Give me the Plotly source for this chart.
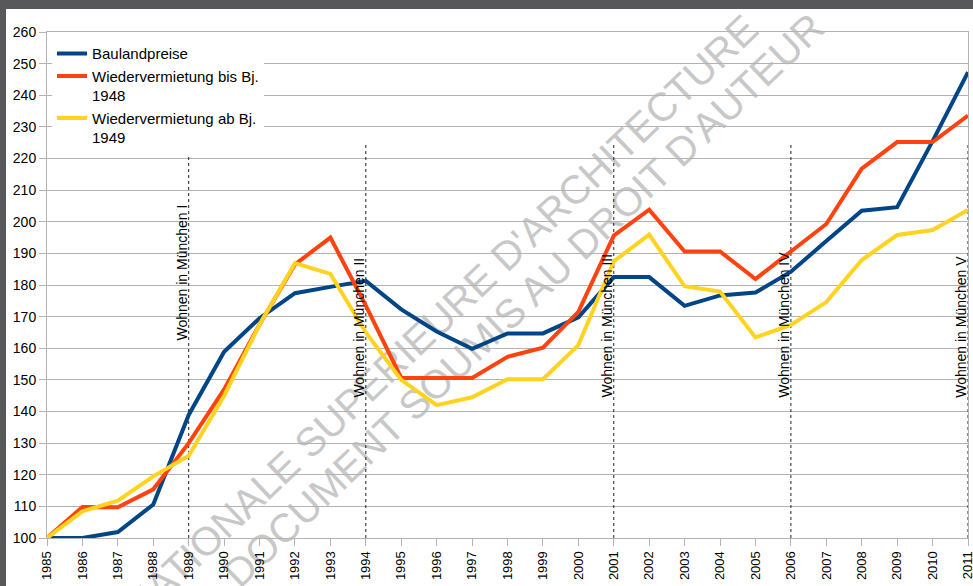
import plotly.graph_objects as go

# ---- data ----
years = list(range(1985, 2012))
baulandpreise = [100, 100, 101.9, 110.6, 138.9, 158.9, 169.5, 177.4, 179.4, 181.3,
                 172.3, 165.3, 159.8, 164.7, 164.7, 169.8, 182.5, 182.5, 173.4, 176.7,
                 177.6, 184.2, 193.9, 203.5, 204.6, 225.5, 247.3]
wv_bis_1948 = [100, 109.8, 109.7, 115.4, 130.0, 147.0, 167.5, 186.5, 195.0, 173.5,
               150.6, 150.6, 150.6, 157.3, 160.2, 171.5, 195.6, 203.8, 190.6, 190.6,
               181.9, 190.6, 199.3, 216.8, 225.2, 225.2, 233.6]
wv_ab_1949 = [100, 108.4, 111.8, 119.5, 126.0, 145.0, 167.5, 186.9, 183.5, 165.0,
              150.0, 142.0, 144.5, 150.2, 150.2, 161.0, 187.5, 195.9, 179.6, 177.9,
              163.4, 167.4, 174.6, 187.9, 195.8, 197.4, 203.7]
series_names = ["Baulandpreise", "Wiedervermietung bis Bj.<br>1948", "Wiedervermietung ab Bj.<br>1949"]
event_years = [1989, 1994, 2001, 2006, 2011]
event_labels = ["Wohnen in München I", "Wohnen in München II", "Wohnen in München III",
                "Wohnen in München IV", "Wohnen in München V"]
y_ticks = list(range(100, 261, 10))

# ---- styling / layout (not data) ----
colors = ["#004586", "#ff420e", "#ffd320"]
event_top = 225
label_base = [161.7, 143.7, 143.7, 143.7, 143.7]
FONT = "Liberation Sans, Arial, sans-serif"
GRID = "#b3b3b3"

fig = go.Figure()

for yr in event_years:
    fig.add_trace(go.Scatter(x=[yr, yr], y=[y_ticks[0], event_top], mode="lines",
                             line=dict(color="#222222", width=1, dash="dot"),
                             showlegend=False, hoverinfo="skip", cliponaxis=False))

for name, vals, col in zip(series_names, [baulandpreise, wv_bis_1948, wv_ab_1949], colors):
    fig.add_trace(go.Scatter(x=years, y=vals, mode="lines", name=name,
                             line=dict(color=col, width=4), cliponaxis=False))

for yr, lab, base in zip(event_years, event_labels, label_base):
    fig.add_annotation(x=yr, y=base, xref="x", yref="y", text=lab, textangle=-90,
                       showarrow=False, xanchor="center", yanchor="bottom", xshift=-7,
                       font=dict(size=14, color="#000000", family=FONT))

W, H = 973, 586
ml, mr, mt, mb = 47, 5, 32, 48
pw, ph = W - ml - mr, H - mt - mb

def px(x):
    return (x - ml) / pw

def py(y):
    return (H - mb - y) / ph

shapes = []
# white page area inside dark frame
shapes.append(dict(type="rect", xref="paper", yref="paper", x0=px(6), x1=px(1000),
                   y0=py(640), y1=py(9), fillcolor="white", line=dict(width=0), layer="below"))
# watermark
wm = [("ECOLE NATIONALE SUPERIEURE D'ARCHITECTURE", 385, 365),
      ("DOCUMENT SOUMIS AU DROIT D'AUTEUR", 521, 297)]
for txt, cx, cy in wm:
    shapes.append(dict(type="rect", xref="paper", yref="paper",
                       x0=px(cx - 2), x1=px(cx + 2), y0=py(cy + 2), y1=py(cy - 2),
                       line=dict(width=0), fillcolor="rgba(0,0,0,0)", layer="below",
                       label=dict(text=txt, textangle=-43.6, textposition="middle center",
                                  font=dict(size=40, color="#c8c8c8", family=FONT))))
# top dark band over watermark
shapes.append(dict(type="rect", xref="paper", yref="paper", x0=px(-20), x1=px(1000),
                   y0=py(9), y1=py(-20), fillcolor="#58585a", line=dict(width=0), layer="below"))

fig.update_layout(
    width=W, height=H,
    margin=dict(l=ml, r=mr, t=mt, b=mb, pad=0, autoexpand=False),
    paper_bgcolor="#58585a", plot_bgcolor="rgba(0,0,0,0)",
    font=dict(family=FONT, color="#000000"),
    shapes=shapes,
    showlegend=True,
    legend=dict(x=px(52), y=py(37.3), xanchor="left", yanchor="top", bgcolor="white",
                font=dict(size=15, family=FONT, color="#000000"), valign="top",
                tracegroupgap=0, itemwidth=30, borderwidth=0),
)
fig.update_xaxes(range=[years[0], years[-1]], tickmode="array", tickvals=years,
                 ticktext=[str(y) for y in years], tickangle=-90, ticks="outside",
                 ticklen=7, tickcolor=GRID, showgrid=False, showline=True, linecolor=GRID,
                 mirror=True, zeroline=False, ticklabeloverflow="allow", automargin=False,
                 tickfont=dict(size=13, family=FONT, color="#000000"))
fig.update_yaxes(range=[y_ticks[0], y_ticks[-1]], tickmode="array", tickvals=y_ticks,
                 ticks="outside", ticklen=7, tickcolor=GRID, gridcolor=GRID, showgrid=True,
                 showline=True, linecolor=GRID, mirror=True, zeroline=False,
                 ticklabeloverflow="allow", automargin=False,
                 tickfont=dict(size=14, family=FONT, color="#000000"))

fig.write_html("out.html", config={"displayModeBar": False},
               post_script="document.body.style.margin='0';document.body.style.overflow='hidden';")
